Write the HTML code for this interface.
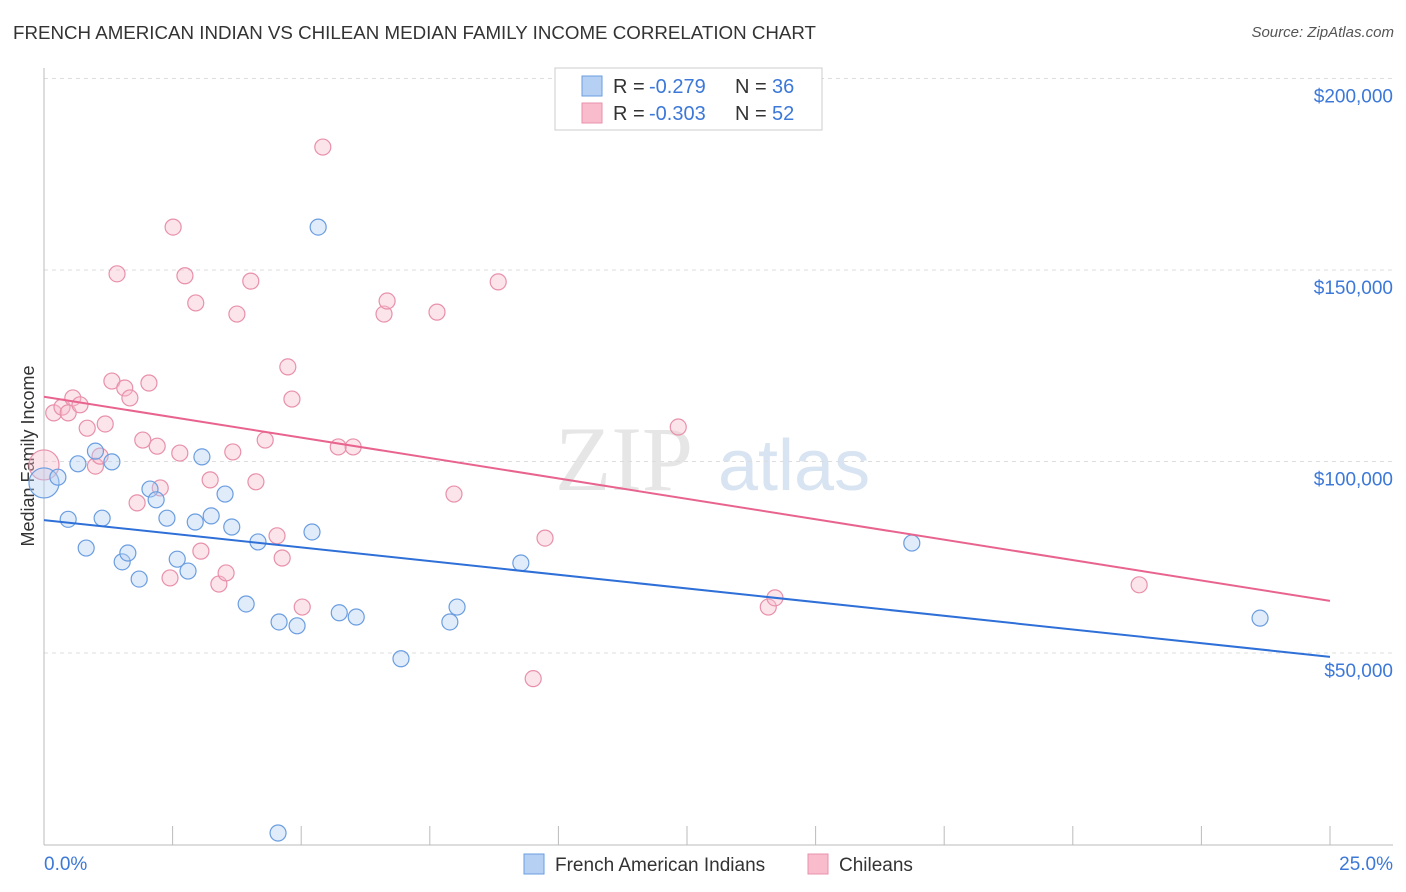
<!DOCTYPE html>
<html><head><meta charset="utf-8">
<style>
body{margin:0;background:#fff;font-family:"Liberation Sans",sans-serif;}
#wrap{position:relative;width:1406px;height:892px;}
.source{position:absolute;right:12px;top:24px;font-size:15px;color:#555;font-style:italic;}
</style></head><body>
<div id="wrap">
<div class="source">Source: ZipAtlas.com</div>
<svg id="svg" width="1406" height="892" style="position:absolute;left:0;top:0">
<text x="13" y="39" font-size="18.6" fill="#333" textLength="803" lengthAdjust="spacingAndGlyphs">FRENCH AMERICAN INDIAN VS CHILEAN MEDIAN FAMILY INCOME CORRELATION CHART</text>
</svg>
</div>
<script>
const blueX=[0.0,0.27,0.47,0.66,0.82,1.0,1.13,1.32,1.52,1.63,1.85,2.06,2.18,2.39,2.59,2.8,2.94,3.07,3.25,3.52,3.65,3.93,4.16,4.57,4.55,4.92,5.21,5.33,5.74,6.07,6.94,7.89,8.03,9.27,16.87,23.64];
const blueY=[94.4,95.9,84.9,99.4,77.4,102.7,85.2,99.9,73.8,76.1,69.3,92.8,90.0,85.2,74.5,71.4,84.2,101.2,85.8,91.5,82.9,62.8,79.0,58.1,3.0,57.1,81.6,161.2,60.5,59.4,48.5,58.1,62.0,73.5,78.7,59.1];
const pinkX=[0,0.19,0.35,0.47,0.56,0.7,0.84,1.0,1.09,1.19,1.32,1.42,1.57,1.67,1.81,1.92,2.04,2.2,2.26,2.45,2.51,2.64,2.74,2.95,3.05,3.23,3.4,3.54,3.67,3.75,4.02,4.12,4.3,4.53,4.63,4.74,4.82,5.02,5.42,5.72,6.01,6.61,6.67,7.64,7.97,8.83,9.51,9.74,12.33,14.08,14.21,21.29];
const pinkY=[99.1,112.7,114.2,112.7,116.6,114.8,108.7,98.8,101.4,109.8,121.0,149.0,119.2,116.6,89.2,105.6,120.5,104.0,93.1,69.6,161.2,102.2,148.5,141.4,76.6,95.2,68.0,70.9,102.5,138.5,147.1,94.7,105.6,80.6,74.8,124.7,116.3,62.0,182.1,103.8,103.8,138.5,141.9,139.0,91.5,146.9,43.3,80.0,109.0,62.0,64.4,67.8];
const blueTrend=[84.7,49.0];
const pinkTrend=[116.9,63.6];
const yTicks=[50,100,150,200];
const yTickLabels=["$50,000","$100,000","$150,000","$200,000"];

const NS="http://www.w3.org/2000/svg";
const svg=document.getElementById('svg');
const X0=44,X1=1330,YB=844.5,PX_PER_K=191.5/50;
const sx=v=>X0+(v/25)*(X1-X0);
const sy=v=>YB-v*PX_PER_K;
function mk(tag,attrs,parent){const e=document.createElementNS(NS,tag);for(const k in attrs)e.setAttribute(k,attrs[k]);(parent||svg).appendChild(e);return e;}

let wm=mk('text',{x:555,y:490,'font-size':92,fill:'#e6e6e6','font-family':'Liberation Serif, serif'});
wm.textContent='ZIP';


let wm2=mk('text',{x:718,y:490,'font-size':72,fill:'#d8e4f2','font-family':'Liberation Sans, sans-serif'});
wm2.textContent='atlas';



yTicks.forEach((t,i)=>{
  const g=mk('line',{x1:X0,x2:1393,y1:sy(t),y2:sy(t),stroke:'#ddd','stroke-dasharray':'4,4'});
  
  
  const tx=mk('text',{x:1393,y:sy(t)+24,'text-anchor':'end','font-size':19,fill:'#3c78d8'});
  tx.textContent=yTickLabels[i];
  
  
});
let ax=mk('line',{x1:X0,x2:1393,y1:845,y2:845,stroke:'#bbb'});


let ay=mk('line',{x1:X0,x2:X0,y1:68,y2:845,stroke:'#bbb'});


for(let i=0;i<=10;i++){
  const t=mk('line',{x1:sx(i*2.5),x2:sx(i*2.5),y1:826,y2:845,stroke:'#bbb'});
  
  
}
let xl=mk('text',{x:44,y:870,'font-size':19,fill:'#3c78d8'});xl.textContent='0.0%';


let xr=mk('text',{x:1393,y:870,'font-size':19,fill:'#3c78d8','text-anchor':'end'});xr.textContent='25.0%';


let yt=mk('text',{x:34,y:456,'font-size':18,fill:'#333','text-anchor':'middle',transform:'rotate(-90 34 456)'});yt.textContent='Median Family Income';



function points(xs,ys,fill,stroke,name){
  xs.forEach((x,i)=>{
    const r=(i===0)?15:8;
    const c=mk('circle',{cx:sx(x),cy:sy(ys[i]),r:r,fill:fill,stroke:stroke,'stroke-width':1.2,'fill-opacity':0.4});
    
    
  });
}
points(pinkX,pinkY,'#f8bccd','#e890aa','chilean-point');
points(blueX,blueY,'#b5d0f3','#6a9de0','french-american-indian-point');
let bl=mk('line',{x1:sx(0),y1:sy(blueTrend[0]),x2:sx(25),y2:sy(blueTrend[1]),stroke:'#2e6fd8','stroke-width':2});


let pl=mk('line',{x1:sx(0),y1:sy(pinkTrend[0]),x2:sx(25),y2:sy(pinkTrend[1]),stroke:'#e8648f','stroke-width':2});



let lb=mk('rect',{x:555,y:68,width:267,height:62,fill:'#fff',stroke:'#ccc'});


[[0,'#b5d0f3','#6a9de0','-0.279','36'],[1,'#f8bccd','#e890aa','-0.303','52']].forEach(r=>{
  const y=86+r[0]*27;
  const s=mk('rect',{x:582,y:y-10,width:20,height:20,fill:r[1],stroke:r[2]});
  
  
  const a=mk('text',{x:613,y:y+7,'font-size':20,fill:'#333'});a.textContent='R =';
  
  
  const b=mk('text',{x:649,y:y+7,'font-size':20,fill:'#3c78d8'});b.textContent=r[3];
  
  
  const c=mk('text',{x:735,y:y+7,'font-size':20,fill:'#333'});c.textContent='N =';
  
  
  const d=mk('text',{x:772,y:y+7,'font-size':20,fill:'#3c78d8'});d.textContent=r[4];
  
  
});
[[524,'#b5d0f3','#6a9de0','French American Indians'],[808,'#f8bccd','#e890aa','Chileans']].forEach(r=>{
  const s=mk('rect',{x:r[0],y:854,width:20,height:20,fill:r[1],stroke:r[2]});
  
  
  const t=mk('text',{x:r[0]+31,y:871,'font-size':19,fill:'#333'});
  t.textContent=r[3];
  
  
});
</script>
</body></html>
